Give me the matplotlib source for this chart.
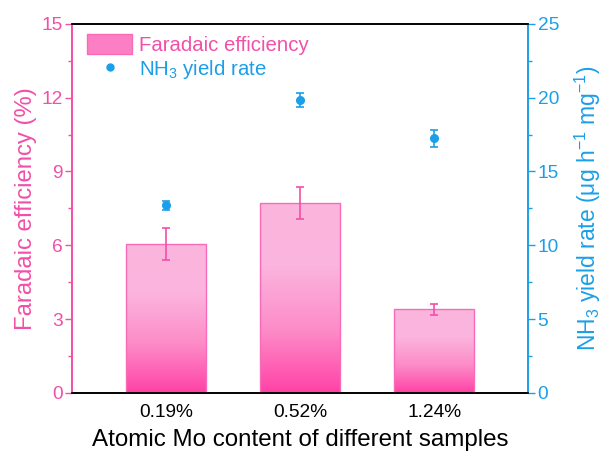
import matplotlib.pyplot as plt
import numpy as np
from matplotlib.colors import LinearSegmentedColormap
from matplotlib.lines import Line2D
from matplotlib.patches import Patch

plt.rcParams['font.family'] = ['Liberation Sans', 'DejaVu Sans']
plt.rcParams['mathtext.fontset'] = 'custom'
plt.rcParams['mathtext.rm'] = 'Liberation Sans'
plt.rcParams['mathtext.it'] = 'Liberation Sans'

samples = ['0.19%', '0.52%', '1.24%']
fe = [6.05, 7.72, 3.40]
fe_err = [0.64, 0.65, 0.23]
nh3 = [12.7, 19.85, 17.25]
nh3_err = [0.3, 0.48, 0.57]

pink = '#f24fa8'
blue = '#1a9fe8'
grad = LinearSegmentedColormap.from_list('fe', ['#ff42a6', '#fd8cc8', '#fbb4dd', '#fbb6de'])

fig = plt.figure(figsize=(6.02, 4.59), dpi=100)
ax = fig.add_axes([0.12, 0.144, 0.757, 0.804])
ax2 = ax.twinx()

x = np.arange(len(samples))
width = 0.6
bars = ax.bar(x, fe, width, color='none', edgecolor='#f76bb8', linewidth=1.0, zorder=3)
for b in bars:
    x0, y0 = b.get_x(), b.get_y()
    g = np.linspace(0, 1, 256).reshape(-1, 1)
    im = ax.imshow(g, cmap=grad, aspect='auto', origin='lower',
                   extent=[x0, x0 + b.get_width(), y0, y0 + b.get_height()], zorder=2)
    im.set_clip_path(b)
ax.errorbar(x, fe, yerr=fe_err, fmt='none', ecolor=pink, elinewidth=1.2, capsize=3, capthick=1.2, zorder=4)

ax2.errorbar(x, nh3, yerr=nh3_err, fmt='o', color=blue, ms=5.5, elinewidth=1.2, capsize=3, capthick=1.2, zorder=5)

ax.set_xlim(-0.7, 2.7)
ax.set_ylim(0, 15)
ax2.set_ylim(0, 25)
ax.set_yticks(np.arange(0, 16, 3))
ax.set_yticks(np.arange(1.5, 15, 3), minor=True)
ax2.set_yticks(np.arange(0, 26, 5))
ax2.set_yticks(np.arange(2.5, 25, 5), minor=True)
ax.set_xticks(x)
ax.set_xticklabels(samples, fontsize=13.8)
ax.tick_params(axis='x', length=0, pad=8)

ax.tick_params(axis='y', which='major', colors=pink, labelsize=13.8, length=5, width=1, direction='out', pad=2)
ax.tick_params(axis='y', which='minor', colors=pink, length=3, width=1, direction='out')
ax2.tick_params(axis='y', which='major', colors=blue, labelsize=13.8, length=5, width=1, direction='out', pad=2)
ax2.tick_params(axis='y', which='minor', colors=blue, length=3, width=1, direction='out')

for a in (ax, ax2):
    a.spines['left'].set_color(pink)
    a.spines['right'].set_color(blue)
    a.spines['top'].set_color('black')
    a.spines['bottom'].set_color('black')
    for s in a.spines.values():
        s.set_linewidth(1.2)
ax.patch.set_visible(False)
ax.set_zorder(ax2.get_zorder() - 1)
ax2.patch.set_visible(False)

ax.set_ylabel('Faradaic efficiency (%)', color=pink, fontsize=17.2, labelpad=3)
ax2.set_ylabel(r'NH$_3$ yield rate (μg h$^{-1}$ mg$^{-1}$)', color=blue, fontsize=16.5, labelpad=10)
ax.set_xlabel('Atomic Mo content of different samples', fontsize=17.4, labelpad=6)

handles = [Patch(facecolor='#fc7fc3', edgecolor='#f76bb8'),
           Line2D([], [], marker='o', color=blue, ls='none', ms=5)]
leg = ax2.legend(handles, ['Faradaic efficiency', r'NH$_3$ yield rate'], loc='upper left',
                 bbox_to_anchor=(0.0, 1.01), frameon=False, fontsize=14.7,
                 handlelength=2.25, handleheight=1.1,
                 borderaxespad=0.3, labelspacing=0.15, handletextpad=0.3)
for t, c in zip(leg.get_texts(), [pink, blue]):
    t.set_color(c)

fig.savefig('out.png', dpi=100)
